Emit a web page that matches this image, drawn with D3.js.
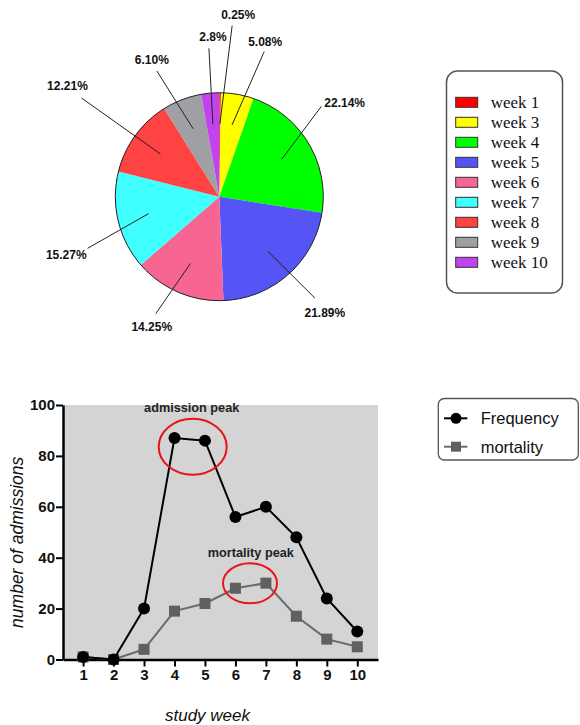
<!DOCTYPE html>
<html><head><meta charset="utf-8">
<script src="https://cdn.jsdelivr.net/npm/d3@7"></script>
<style>body{margin:0;background:#fff}svg{display:block}</style>
</head><body><svg id="c" width="580" height="725"></svg>
<script>
// ---------- data ----------
const pieWeeks = ["week 1","week 3","week 4","week 5","week 6","week 7","week 8","week 9","week 10"];
const piePercents = [0.25, 5.08, 22.14, 21.89, 14.25, 15.27, 12.21, 6.10, 2.8];
const pieLabels = ["0.25%","5.08%","22.14%","21.89%","14.25%","15.27%","12.21%","6.10%","2.8%"];
const pieColors = ["#ff0000","#ffff00","#00ff00","#5555f6","#f76593","#40ffff","#ff4242","#a0a0a4","#c043ee"];

const weeks = [1,2,3,4,5,6,7,8,9,10];
const frequency = [1,0,20,87,86,56,60,48,24,11];
const mortality = [1,0,4,19,22,28,30,17,8,5];
const yTicks = [0,20,40,60,80,100];
const seriesNames = ["Frequency","mortality"];

// ---------- layout (label leaders: angle deg, radius factor, text dx, dy, anchor) ----------
const leaderLayout = [
  [4.3,1.65,6,-11,"middle"],
  [17.2,1.46,1,-10,"middle"],
  [48.5,1.31,3,-3,"start"],
  [136.7,1.34,10,15,"middle"],
  [208.5,1.28,-4,13,"middle"],
  [248.6,1.36,-1,7,"end"],
  [305.6,1.63,-14,-12,"middle"],
  [333.6,1.35,-5,-11,"middle"],
  [356,1.43,4,-11,"middle"]
];

const svg = d3.select("#c");

// ---------- pie ----------
const cx = 219.3, cy = 196.7, R = 104;
const pg = svg.append("g").attr("transform", `translate(${cx},${cy})`);
const arcs = d3.pie().sort(null).value(d => d)(piePercents);
const arc = d3.arc().innerRadius(0).outerRadius(R);
const inner = d3.arc().innerRadius(R*0.7).outerRadius(R*0.7);
pg.selectAll("path.s").data(arcs).join("path").attr("class","s")
  .attr("d", arc).attr("fill", (d,i) => pieColors[i]);
pg.append("circle").attr("r", R).attr("fill","none").attr("stroke","#222").attr("stroke-width",1);

arcs.forEach((a,i) => {
  const [ang, rf, dx, dy, anc] = leaderLayout[i];
  const p0 = inner.centroid(a);
  const t = ang*Math.PI/180;
  const p1 = [Math.sin(t)*R*rf, -Math.cos(t)*R*rf];
  pg.append("line").attr("x1",p0[0]).attr("y1",p0[1]).attr("x2",p1[0]).attr("y2",p1[1])
    .attr("stroke","#222").attr("stroke-width",1);
  pg.append("text").attr("x",p1[0]+dx).attr("y",p1[1]+dy)
    .attr("text-anchor",anc).attr("dominant-baseline","central")
    .style("font-family","Liberation Sans, Arial, sans-serif").style("font-weight","bold")
    .style("font-size","12px").attr("fill","#111").text(pieLabels[i]);
});

// pie legend
const lg = svg.append("g");
lg.append("rect").attr("x",446.5).attr("y",71).attr("width",116).attr("height",222)
  .attr("rx",11).attr("fill","#fff").attr("stroke","#555").attr("stroke-width",1.5);
pieWeeks.forEach((w,i) => {
  const yy = 102.3 + i*20;
  lg.append("rect").attr("x",455.7).attr("y",yy-5).attr("width",22).attr("height",10)
    .attr("fill",pieColors[i]).attr("stroke","#333").attr("stroke-width",1);
  lg.append("text").attr("x",490.7).attr("y",yy).attr("dominant-baseline","central")
    .style("font-family","Liberation Serif, Times New Roman, serif").style("font-size","17px")
    .attr("fill","#111").text(w);
});

// ---------- line chart ----------
const x = d3.scaleLinear().domain([0.34,10.68]).range([63,378]);
const y = d3.scaleLinear().domain([0,100]).range([659.5,405]);

svg.append("rect").attr("x",x(0.34)).attr("y",y(100)).attr("width",x(10.68)-x(0.34))
  .attr("height",y(0)-y(100)).attr("fill","#d4d4d4");

const yAx = svg.append("g").attr("transform",`translate(${x(0.34)},0)`)
  .call(d3.axisLeft(y).tickValues(yTicks).tickSize(7).tickSizeOuter(0).tickPadding(1));
const xAx = svg.append("g").attr("transform",`translate(0,${y(0)})`)
  .call(d3.axisBottom(x).tickValues(weeks).tickFormat(d3.format("d")).tickSize(7).tickSizeOuter(0).tickPadding(3));
[yAx,xAx].forEach(g => {
  g.select(".domain").attr("stroke","#000").attr("stroke-width",2.5);
  g.selectAll(".tick line").attr("stroke","#000").attr("stroke-width",2);
  g.selectAll(".tick text").attr("fill","#111")
    .style("font-family","Liberation Sans, Arial, sans-serif").style("font-weight","bold").style("font-size","15px");
});

const line = d3.line().x((d,i) => x(weeks[i])).y(d => y(d));
// mortality
svg.append("path").datum(mortality).attr("d",line).attr("fill","none").attr("stroke","#6a6a6a").attr("stroke-width",2);
svg.selectAll("rect.m").data(mortality).join("rect").attr("class","m")
  .attr("x",(d,i)=>x(weeks[i])-5.5).attr("y",d=>y(d)-5.5).attr("width",11).attr("height",11).attr("fill","#606060");
// frequency
svg.append("path").datum(frequency).attr("d",line).attr("fill","none").attr("stroke","#000").attr("stroke-width",2);
svg.selectAll("circle.f").data(frequency).join("circle").attr("class","f")
  .attr("cx",(d,i)=>x(weeks[i])).attr("cy",d=>y(d)).attr("r",6).attr("fill","#000");

// annotations
svg.append("ellipse").attr("cx",192.7).attr("cy",446.7).attr("rx",34).attr("ry",28)
  .attr("fill","none").attr("stroke","#e8141a").attr("stroke-width",2);
svg.append("ellipse").attr("cx",250).attr("cy",583.3).attr("rx",27).attr("ry",20)
  .attr("fill","none").attr("stroke","#e8141a").attr("stroke-width",2);
[["admission peak",191.7,408.3],["mortality peak",250.8,553.3]].forEach(a => {
  svg.append("text").attr("x",a[1]).attr("y",a[2]).attr("text-anchor","middle").attr("dominant-baseline","central")
    .style("font-family","Liberation Sans, Arial, sans-serif").style("font-weight","bold").style("font-size","12.7px")
    .attr("fill","#222").text(a[0]);
});

// axis titles
svg.append("text").attr("transform","translate(16.7,542.3) rotate(-90)").attr("text-anchor","middle")
  .attr("dominant-baseline","central").style("font-family","Liberation Sans, Arial, sans-serif")
  .style("font-style","italic").style("font-size","17.5px").attr("fill","#111").text("number of admissions");
svg.append("text").attr("x",207.5).attr("y",715).attr("text-anchor","middle").attr("dominant-baseline","central")
  .style("font-family","Liberation Sans, Arial, sans-serif").style("font-style","italic").style("font-size","17px")
  .attr("fill","#111").text("study week");

// line legend
const l2 = svg.append("g");
l2.append("rect").attr("x",438.3).attr("y",398.5).attr("width",140).attr("height",61.5).attr("rx",6)
  .attr("fill","#fff").attr("stroke","#555").attr("stroke-width",1.3);
[[418.3,"#000","c"],[446.7,"#606060","s"]].forEach((r,i) => {
  l2.append("line").attr("x1",444).attr("x2",467.3).attr("y1",r[0]).attr("y2",r[0])
    .attr("stroke",i? "#6a6a6a":"#000").attr("stroke-width",2);
  if (r[2]==="c") l2.append("circle").attr("cx",456).attr("cy",r[0]).attr("r",5.5).attr("fill",r[1]);
  else l2.append("rect").attr("x",451).attr("y",r[0]-5).attr("width",10).attr("height",10).attr("fill",r[1]);
  l2.append("text").attr("x",480.7).attr("y",r[0]).attr("dominant-baseline","central")
    .style("font-family","Liberation Sans, Arial, sans-serif").style("font-size","16.5px")
    .attr("fill","#111").text(seriesNames[i]);
});
</script></body></html>
